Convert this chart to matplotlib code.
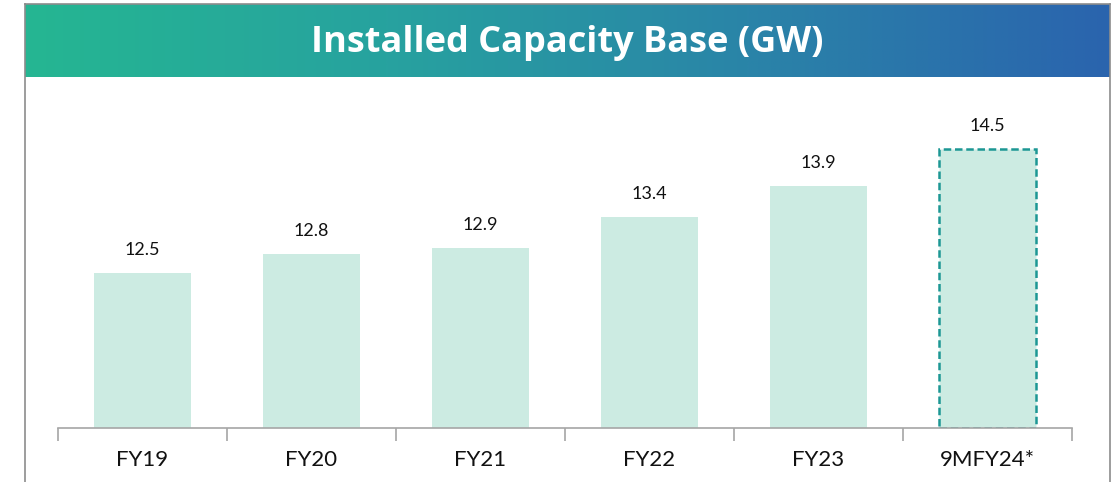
import numpy as np
import matplotlib
matplotlib.use("Agg")
import matplotlib.pyplot as plt
from matplotlib.colors import LinearSegmentedColormap
from matplotlib.lines import Line2D

categories = ["FY19", "FY20", "FY21", "FY22", "FY23", "9MFY24*"]
values = [12.5, 12.8, 12.9, 13.4, 13.9, 14.5]
value_labels = ["12.5", "12.8", "12.9", "13.4", "13.9", "14.5"]
title = "Installed Capacity Base (GW)"

W, H = 1112, 482
fig = plt.figure(figsize=(W / 100, H / 100), dpi=100)
fig.patch.set_facecolor("white")

def fx(px):
    return px / W

def fy(py):
    return 1 - py / H

# Banner with gradient
bx0, bx1, by0, by1 = 25, 1110, 4, 77
bax = fig.add_axes([fx(bx0), fy(by1), fx(bx1 - bx0), (by1 - by0) / H])
cmap = LinearSegmentedColormap.from_list("g", ["#25B692", "#27A29F", "#2A84A8", "#2A64AE"])
grad = np.linspace(0, 1, 512).reshape(1, -1)
bax.imshow(grad, aspect="auto", cmap=cmap, extent=[0, 1, 0, 1])
bax.set_xlim(0, 1)
bax.set_ylim(0, 1)
bax.axis("off")
bax.text(0.5, 0.46, title, color="white", fontsize=26, fontweight="bold",
         family=["Open Sans", "DejaVu Sans"], ha="center", va="center")

# Frame lines
frame_col = "#8C8C8C"
fig.add_artist(Line2D([fx(bx0), fx(bx0)], [fy(by0), 0], color=frame_col, lw=1.2, transform=fig.transFigure))
fig.add_artist(Line2D([fx(bx1), fx(bx1)], [fy(by0), 0], color=frame_col, lw=1.2, transform=fig.transFigure))
fig.add_artist(Line2D([fx(bx0), fx(bx1)], [fy(by0), fy(by0)], color=frame_col, lw=1.2, transform=fig.transFigure))

# Chart axes
ax0, ax1, ay_bot, ay_top = 58, 1072, 428, 77
ax = fig.add_axes([fx(ax0), fy(ay_bot), fx(ax1 - ax0), (ay_bot - ay_top) / H])
ax.set_facecolor("none")
x = np.arange(len(categories))
bar_col = "#CCEBE2"
bars = ax.bar(x, [v - 10 for v in values], bottom=10, width=0.57, color=bar_col, zorder=2)
last = bars[-1]
last.set_edgecolor("#1C9794")
last.set_linestyle((0, (3, 1.5)))
last.set_linewidth(1.8)

for xi, v, lab in zip(x, values, value_labels):
    ax.annotate(lab, (xi, v), xytext=(0, 11), textcoords="offset points",
                ha="center", va="bottom", fontsize=13, color="#111111",
                family=["Lato", "DejaVu Sans"])

ax.set_xlim(-0.5, len(categories) - 0.5)
ax.set_ylim(10, 15.66)
for s in ["top", "right", "left"]:
    ax.spines[s].set_visible(False)
ax.spines["bottom"].set_color("#A6A6A6")
ax.spines["bottom"].set_linewidth(1.2)
ax.set_yticks([])
ax.set_xticks(np.arange(len(categories) + 1) - 0.5)
ax.set_xticklabels([])
ax.tick_params(axis="x", length=9, width=1.2, color="#A6A6A6", direction="out")
for xi, c in zip(x, categories):
    ax.text(xi, -0.09, c, transform=ax.get_xaxis_transform(), ha="center", va="center",
            fontsize=16, color="#111111", family=["Lato", "DejaVu Sans"])

fig.savefig("out.png", dpi=100)
